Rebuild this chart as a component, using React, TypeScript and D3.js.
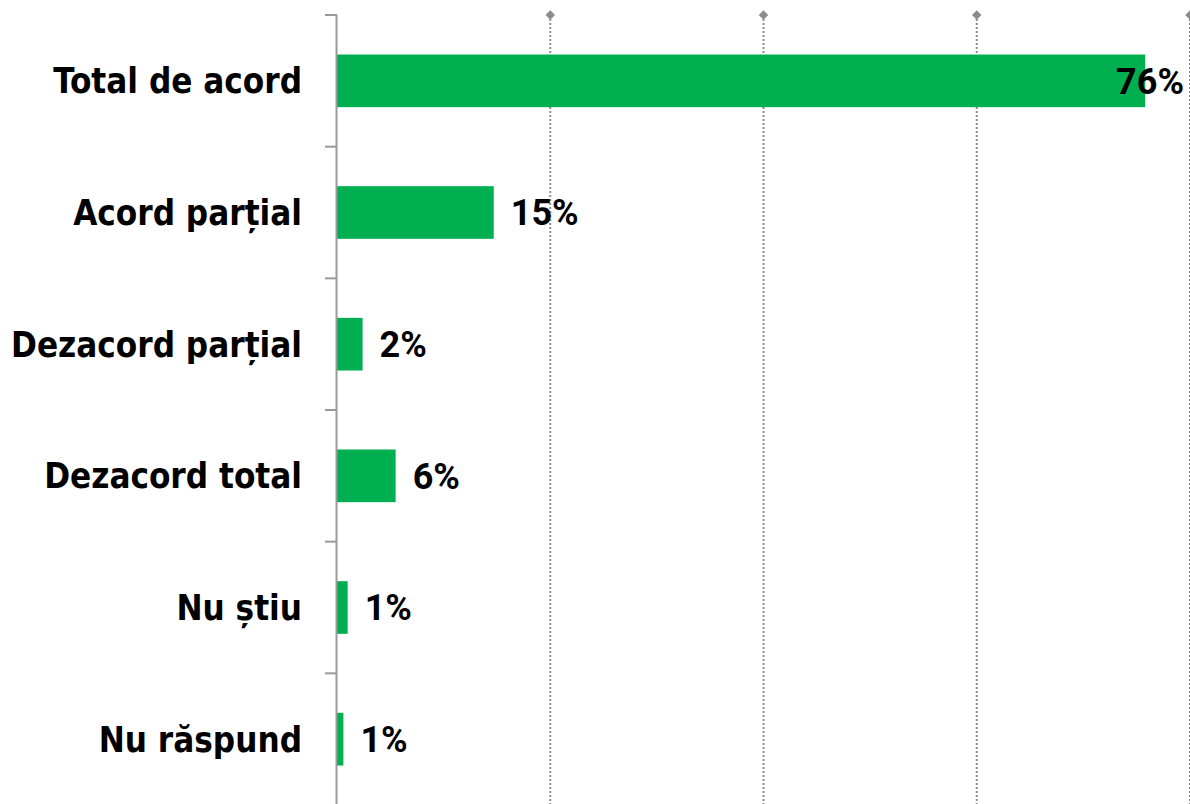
import { useEffect, useRef } from 'react';
import * as d3 from 'd3';

const categories = ['Total de acord', 'Acord parțial', 'Dezacord parțial', 'Dezacord total', 'Nu știu', 'Nu răspund'];
const values = [75.8, 14.7, 2.4, 5.5, 1.0, 0.6];
const valueLabels = ['76%', '15%', '2%', '6%', '1%', '1%'];
const gridTicks = [20, 40, 60, 80];

const App = () => {
  const ref = useRef<SVGSVGElement>(null);
  const width = 1190;
  const height = 804;
  const margin = { top: 15, right: 0, bottom: -1, left: 337 };
  const catFont = "'DejaVu Sans Condensed', 'DejaVu Sans', sans-serif";
  const valFont = "Roboto, 'Liberation Sans', sans-serif";

  useEffect(() => {
    const svg = d3.select(ref.current);
    svg.selectAll('*').remove();

    const x = d3.scaleLinear().domain([0, 80]).range([margin.left, width - margin.right]);
    const y = d3
      .scaleBand()
      .domain(categories)
      .range([margin.top, height - margin.bottom])
      .paddingInner(0.6)
      .paddingOuter(0.3);
    const step = y.step();

    // dotted gridlines with diamond caps
    const grid = svg.append('g');
    grid
      .selectAll('line')
      .data(gridTicks)
      .join('line')
      .attr('x1', (d) => x(d))
      .attr('x2', (d) => x(d))
      .attr('y1', margin.top)
      .attr('y2', height)
      .attr('stroke', '#8c8c8c')
      .attr('stroke-width', 2)
      .attr('stroke-dasharray', '2,2');
    grid
      .selectAll('path')
      .data(gridTicks)
      .join('path')
      .attr('d', d3.symbol(d3.symbolSquare, 45))
      .attr('transform', (d) => `translate(${x(d)},${margin.top}) rotate(45)`)
      .attr('fill', '#8c8c8c');

    // bars
    svg
      .append('g')
      .selectAll('rect')
      .data(values)
      .join('rect')
      .attr('x', x(0))
      .attr('y', (d, i) => y(categories[i])!)
      .attr('width', (d) => x(d) - x(0))
      .attr('height', y.bandwidth())
      .attr('fill', '#00b050');

    // category axis
    const axis = svg.append('g');
    axis
      .append('line')
      .attr('x1', x(0) - 0.5)
      .attr('x2', x(0) - 0.5)
      .attr('y1', margin.top)
      .attr('y2', height)
      .attr('stroke', '#999')
      .attr('stroke-width', 2);
    const boundaries = d3.range(categories.length + 1).map((i) => margin.top + i * step);
    axis
      .selectAll('line.tick')
      .data(boundaries)
      .join('line')
      .attr('class', 'tick')
      .attr('x1', x(0) - 12)
      .attr('x2', x(0))
      .attr('y1', (d) => d)
      .attr('y2', (d) => d)
      .attr('stroke', '#999')
      .attr('stroke-width', 2);

    axis
      .selectAll('text')
      .data(categories)
      .join('text')
      .attr('x', x(0) - 35)
      .attr('y', (d) => y(d)! + y.bandwidth() / 2)
      .attr('dy', '0.36em')
      .attr('text-anchor', 'end')
      .attr('font-family', catFont)
      .attr('font-weight', 'bold')
      .attr('font-size', 34.7)
      .attr('fill', '#000')
      .text((d) => d);

    // value labels
    svg
      .append('g')
      .selectAll('text')
      .data(values)
      .join('text')
      .attr('y', (d, i) => y(categories[i])! + y.bandwidth() / 2)
      .attr('dy', '0.36em')
      .attr('font-family', valFont)
      .attr('font-weight', 'bold')
      .attr('font-size', 36)
      .attr('fill', '#000')
      .text((d, i) => valueLabels[i])
      .each(function (d) {
        const w = (this as SVGTextElement).getComputedTextLength();
        const pos = Math.min(x(d) + 17, width - 6 - w);
        d3.select(this).attr('x', pos);
      });
  }, []);

  return (
    <svg
      ref={ref}
      width={width}
      height={height}
      style={{ position: 'absolute', left: 0, top: 0, background: '#fff' }}
    />
  );
};

export default App;
